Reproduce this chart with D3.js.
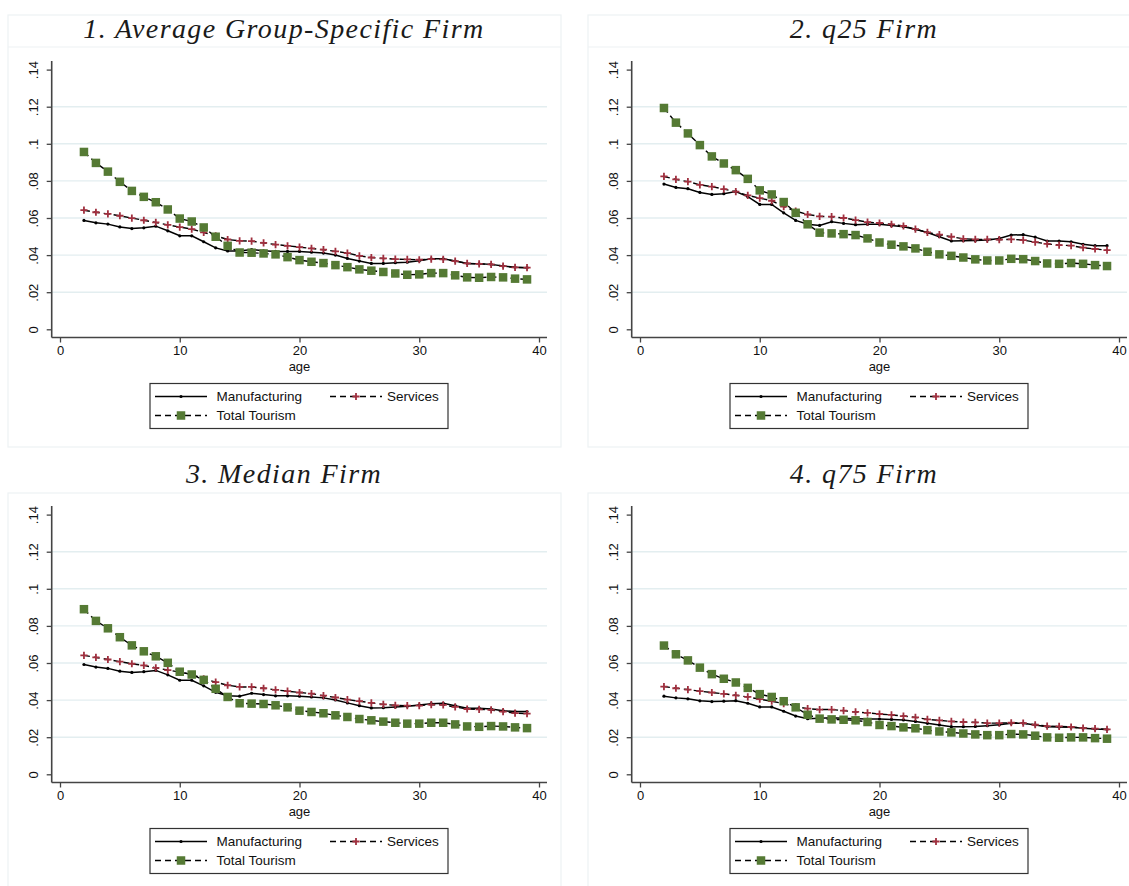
<!DOCTYPE html>
<html>
<head>
<meta charset="utf-8">
<script src="https://cdn.jsdelivr.net/npm/d3@7"></script>
<style>
  html, body { margin: 0; padding: 0; background: #ffffff; }
  svg { display: block; }
</style>
</head>
<body>
<svg id="chart" width="1129" height="886"></svg>
<script>
// ---------------- DATA ----------------
const ages = [2,3,4,5,6,7,8,9,10,11,12,13,14,15,16,17,18,19,20,21,22,23,24,25,26,27,28,29,30,31,32,33,34,35,36,37,38,39];
const panelTitles = ["1. Average Group-Specific Firm", "2. q25 Firm", "3. Median Firm", "4. q75 Firm"];
const seriesNames = ["Manufacturing", "Services", "Total Tourism"];
const yTicks = [0, 0.02, 0.04, 0.06, 0.08, 0.10, 0.12, 0.14];
const yTickLabels = ["0", ".02", ".04", ".06", ".08", ".1", ".12", ".14"];
const xTicks = [0, 10, 20, 30, 40];
const xTickLabels = ["0", "10", "20", "30", "40"];
const xAxisTitle = "age";

const avgManufacturing = [0.0587,0.0574,0.0567,0.0552,0.0543,0.0547,0.0556,0.0531,0.0504,0.0504,0.0472,0.0439,0.0422,0.0422,0.0430,0.0423,0.0420,0.0420,0.0420,0.0416,0.0411,0.0400,0.0382,0.0368,0.0355,0.0355,0.0359,0.0362,0.0370,0.0380,0.0380,0.0368,0.0355,0.0353,0.0350,0.0341,0.0334,0.0332];
const avgServices = [0.0642,0.0631,0.0622,0.0612,0.0599,0.0588,0.0576,0.0563,0.0551,0.0540,0.0522,0.0504,0.0484,0.0477,0.0475,0.0466,0.0457,0.0450,0.0443,0.0436,0.0429,0.0420,0.0411,0.0396,0.0387,0.0382,0.0378,0.0377,0.0375,0.0378,0.0377,0.0368,0.0355,0.0353,0.0350,0.0341,0.0334,0.0332];
const avgTourism = [0.0956,0.0897,0.0850,0.0795,0.0746,0.0714,0.0685,0.0646,0.0597,0.0581,0.0549,0.0499,0.0450,0.0414,0.0413,0.0409,0.0404,0.0389,0.0373,0.0364,0.0357,0.0346,0.0335,0.0323,0.0316,0.0309,0.0301,0.0294,0.0296,0.0303,0.0303,0.0291,0.0280,0.0278,0.0282,0.0280,0.0273,0.0269];

const q25Manufacturing = [0.0783,0.0765,0.0758,0.0738,0.0727,0.0731,0.0743,0.0715,0.0673,0.0673,0.0628,0.0587,0.0566,0.0560,0.0580,0.0571,0.0564,0.0566,0.0566,0.0560,0.0553,0.0539,0.0522,0.0499,0.0476,0.0478,0.0479,0.0481,0.0490,0.0508,0.0510,0.0497,0.0476,0.0476,0.0472,0.0458,0.0451,0.0451];
const q25Services = [0.0824,0.0808,0.0796,0.0779,0.0769,0.0756,0.0742,0.0722,0.0707,0.0693,0.0661,0.0637,0.0619,0.0609,0.0607,0.0600,0.0589,0.0578,0.0573,0.0566,0.0557,0.0540,0.0522,0.0510,0.0499,0.0488,0.0485,0.0485,0.0483,0.0485,0.0481,0.0470,0.0460,0.0454,0.0451,0.0440,0.0433,0.0427];
const q25Tourism = [0.1193,0.1114,0.1056,0.0993,0.0932,0.0894,0.0858,0.0811,0.0749,0.0727,0.0686,0.0628,0.0566,0.0521,0.0517,0.0513,0.0508,0.0490,0.0468,0.0456,0.0447,0.0436,0.0418,0.0404,0.0396,0.0387,0.0377,0.0371,0.0371,0.0380,0.0378,0.0368,0.0355,0.0353,0.0357,0.0353,0.0346,0.0341];

const medManufacturing = [0.0592,0.0578,0.0571,0.0556,0.0549,0.0553,0.0560,0.0536,0.0507,0.0507,0.0477,0.0442,0.0424,0.0421,0.0437,0.0430,0.0423,0.0423,0.0421,0.0417,0.0412,0.0401,0.0385,0.0370,0.0358,0.0359,0.0363,0.0367,0.0374,0.0381,0.0383,0.0370,0.0356,0.0356,0.0352,0.0343,0.0338,0.0338];
const medServices = [0.0641,0.0630,0.0619,0.0607,0.0596,0.0587,0.0574,0.0562,0.0551,0.0538,0.0515,0.0497,0.0480,0.0471,0.0471,0.0464,0.0455,0.0448,0.0441,0.0435,0.0424,0.0414,0.0403,0.0394,0.0385,0.0377,0.0372,0.0370,0.0370,0.0376,0.0374,0.0363,0.0352,0.0350,0.0347,0.0338,0.0330,0.0327];
const medTourism = [0.0890,0.0827,0.0787,0.0739,0.0695,0.0663,0.0636,0.0601,0.0553,0.0538,0.0509,0.0461,0.0417,0.0383,0.0381,0.0379,0.0372,0.0361,0.0343,0.0336,0.0329,0.0318,0.0309,0.0298,0.0291,0.0284,0.0278,0.0273,0.0273,0.0278,0.0278,0.0269,0.0258,0.0256,0.0260,0.0258,0.0253,0.0249];

const q75Manufacturing = [0.0421,0.0412,0.0407,0.0396,0.0392,0.0394,0.0397,0.0383,0.0363,0.0363,0.0340,0.0314,0.0300,0.0302,0.0305,0.0302,0.0300,0.0298,0.0298,0.0296,0.0293,0.0285,0.0275,0.0266,0.0257,0.0257,0.0258,0.0262,0.0267,0.0275,0.0275,0.0266,0.0257,0.0255,0.0253,0.0248,0.0244,0.0242];
const q75Services = [0.0473,0.0464,0.0457,0.0448,0.0441,0.0434,0.0426,0.0417,0.0405,0.0394,0.0381,0.0365,0.0354,0.0349,0.0349,0.0343,0.0336,0.0331,0.0325,0.0320,0.0314,0.0307,0.0296,0.0291,0.0285,0.0282,0.0280,0.0276,0.0276,0.0278,0.0276,0.0267,0.0260,0.0258,0.0255,0.0249,0.0246,0.0242];
const q75Tourism = [0.0694,0.0647,0.0614,0.0575,0.0540,0.0515,0.0495,0.0466,0.0432,0.0417,0.0394,0.0361,0.0321,0.0300,0.0296,0.0294,0.0291,0.0282,0.0266,0.0260,0.0253,0.0248,0.0238,0.0231,0.0226,0.0220,0.0215,0.0211,0.0211,0.0217,0.0215,0.0208,0.0199,0.0197,0.0199,0.0199,0.0195,0.0192];

// ---------------- LAYOUT / STYLE ----------------
const panels = [
  { title: panelTitles[0], series: [avgManufacturing, avgServices, avgTourism], ox: 0,   oy: 0,   titleBox: true },
  { title: panelTitles[1], series: [q25Manufacturing, q25Services, q25Tourism], ox: 580, oy: 0,   titleBox: true },
  { title: panelTitles[2], series: [medManufacturing, medServices, medTourism], ox: 0,   oy: 445, titleBox: false },
  { title: panelTitles[3], series: [q75Manufacturing, q75Services, q75Tourism], ox: 580, oy: 445, titleBox: false }
];

const RED = "#a0303f";
const GREEN = "#557a34";
const GRID = "#e3eef0";
const FAINT = "#edf2f3";
const AXIS = "#444444";
const sansFont = "'Liberation Sans', Arial, sans-serif";
const serifFont = "'Liberation Serif', 'DejaVu Serif', serif";

const svg = d3.select("#chart");

panels.forEach(p => {
  const g = svg.append("g").attr("transform", `translate(${p.ox},${p.oy})`);

  // faint panel frames
  if (p.titleBox) {
    g.append("rect").attr("x", 8).attr("y", 15).attr("width", 553).attr("height", 432)
      .attr("fill", "none").attr("stroke", FAINT).attr("stroke-width", 1.2);
    g.append("line").attr("x1", 8).attr("x2", 561).attr("y1", 47).attr("y2", 47)
      .attr("stroke", FAINT).attr("stroke-width", 1.2);
  } else {
    g.append("rect").attr("x", 8).attr("y", 48).attr("width", 553).attr("height", 440)
      .attr("fill", "none").attr("stroke", FAINT).attr("stroke-width", 1.2);
  }

  // title
  g.append("text")
    .attr("x", 284).attr("y", 38)
    .attr("text-anchor", "middle")
    .attr("font-family", serifFont)
    .attr("font-style", "italic")
    .attr("font-size", 28)
    .attr("letter-spacing", "1.4px")
    .attr("fill", "#1a1a1a")
    .text(p.title);

  const x = d3.scaleLinear().domain([0, 40]).range([60, 539]);
  const y = d3.scaleLinear().domain([0, 0.14]).range([329.3, 69.6]);

  const axisX = 51.7, axisY = 337.5, plotRight = 547, plotTop = 61;

  // gridlines (inner ticks)
  g.append("g").selectAll("line")
    .data(yTicks.filter((d, i) => i > 0 && i < yTicks.length - 1))
    .join("line")
    .attr("x1", axisX).attr("x2", plotRight)
    .attr("y1", d => y(d)).attr("y2", d => y(d))
    .attr("stroke", GRID).attr("stroke-width", 1.4);

  // y axis
  const yAxis = d3.axisLeft(y).tickValues(yTicks)
    .tickFormat((d, i) => yTickLabels[i]).tickSize(5).tickPadding(5);
  const yg = g.append("g").attr("transform", `translate(${axisX},0)`).call(yAxis);
  yg.select(".domain").remove();
  yg.selectAll(".tick line").attr("stroke", AXIS).attr("stroke-width", 1.3);
  yg.selectAll(".tick text")
    .attr("font-family", sansFont).attr("font-size", 13).attr("fill", "#111")
    .attr("text-anchor", "middle").attr("x", null).attr("dy", null)
    .attr("transform", "translate(-18,0) rotate(-90)")
    .attr("y", 0).attr("dominant-baseline", "central");
  g.append("line").attr("x1", axisX).attr("x2", axisX).attr("y1", plotTop).attr("y2", axisY)
    .attr("stroke", AXIS).attr("stroke-width", 1.6);

  // x axis
  const xAxis = d3.axisBottom(x).tickValues(xTicks)
    .tickFormat((d, i) => xTickLabels[i]).tickSize(5).tickPadding(3);
  const xg = g.append("g").attr("transform", `translate(0,${axisY})`).call(xAxis);
  xg.select(".domain").remove();
  xg.selectAll(".tick line").attr("stroke", AXIS).attr("stroke-width", 1.3);
  xg.selectAll(".tick text").attr("font-family", sansFont).attr("font-size", 13).attr("fill", "#111");
  g.append("line").attr("x1", axisX).attr("x2", plotRight).attr("y1", axisY).attr("y2", axisY)
    .attr("stroke", AXIS).attr("stroke-width", 1.6);

  g.append("text").attr("x", 299.5).attr("y", 370.5).attr("text-anchor", "middle")
    .attr("font-family", sansFont).attr("font-size", 13).attr("fill", "#111").text(xAxisTitle);

  const line = d3.line().x((d, i) => x(ages[i])).y(d => y(d));

  // Manufacturing
  g.append("path").datum(p.series[0]).attr("d", line)
    .attr("fill", "none").attr("stroke", "#000").attr("stroke-width", 1.5);
  g.append("g").selectAll("circle").data(p.series[0]).join("circle")
    .attr("cx", (d, i) => x(ages[i])).attr("cy", d => y(d)).attr("r", 1.6).attr("fill", "#000");

  // Services
  g.append("path").datum(p.series[1]).attr("d", line)
    .attr("fill", "none").attr("stroke", "#000").attr("stroke-width", 1.4)
    .attr("stroke-dasharray", "6,4");
  g.append("g").selectAll("path").data(p.series[1]).join("path")
    .attr("transform", (d, i) => `translate(${x(ages[i])},${y(d)})`)
    .attr("d", "M-3.6,0H3.6M0,-3.6V3.6")
    .attr("stroke", RED).attr("stroke-width", 1.8).attr("fill", "none");

  // Total Tourism
  g.append("path").datum(p.series[2]).attr("d", line)
    .attr("fill", "none").attr("stroke", "#000").attr("stroke-width", 1.4)
    .attr("stroke-dasharray", "6,4");
  const sq = 8.5;
  g.append("g").selectAll("rect").data(p.series[2]).join("rect")
    .attr("x", (d, i) => x(ages[i]) - sq / 2).attr("y", d => y(d) - sq / 2)
    .attr("width", sq).attr("height", sq).attr("fill", GREEN);

  // Legend
  const lg = g.append("g");
  lg.append("rect").attr("x", 150).attr("y", 383.5).attr("width", 298).attr("height", 45)
    .attr("fill", "#fff").attr("stroke", "#333").attr("stroke-width", 1.2);
  const legendItems = [
    { name: seriesNames[0], lx: 155, ty: 396.5, kind: "m" },
    { name: seriesNames[1], lx: 330, ty: 396.5, kind: "s" },
    { name: seriesNames[2], lx: 155, ty: 415.5, kind: "t" }
  ];
  legendItems.forEach(it => {
    const lx0 = it.lx, lx1 = it.lx + 52, mid = it.lx + 26;
    lg.append("line").attr("x1", lx0).attr("x2", lx1).attr("y1", it.ty).attr("y2", it.ty)
      .attr("stroke", "#000").attr("stroke-width", 1.4)
      .attr("stroke-dasharray", it.kind === "m" ? null : "6,4");
    if (it.kind === "m") {
      lg.append("circle").attr("cx", mid).attr("cy", it.ty).attr("r", 1.6).attr("fill", "#000");
    } else if (it.kind === "s") {
      lg.append("path").attr("transform", `translate(${mid},${it.ty})`)
        .attr("d", "M-3.6,0H3.6M0,-3.6V3.6").attr("stroke", RED).attr("stroke-width", 1.8);
    } else {
      lg.append("rect").attr("x", mid - sq / 2).attr("y", it.ty - sq / 2)
        .attr("width", sq).attr("height", sq).attr("fill", GREEN);
    }
    lg.append("text").attr("x", it.kind === "s" ? 387 : 216.5).attr("y", it.ty)
      .attr("dominant-baseline", "central")
      .attr("font-family", sansFont).attr("font-size", 13.5).attr("fill", "#111").text(it.name);
  });
});
</script>
</body>
</html>
